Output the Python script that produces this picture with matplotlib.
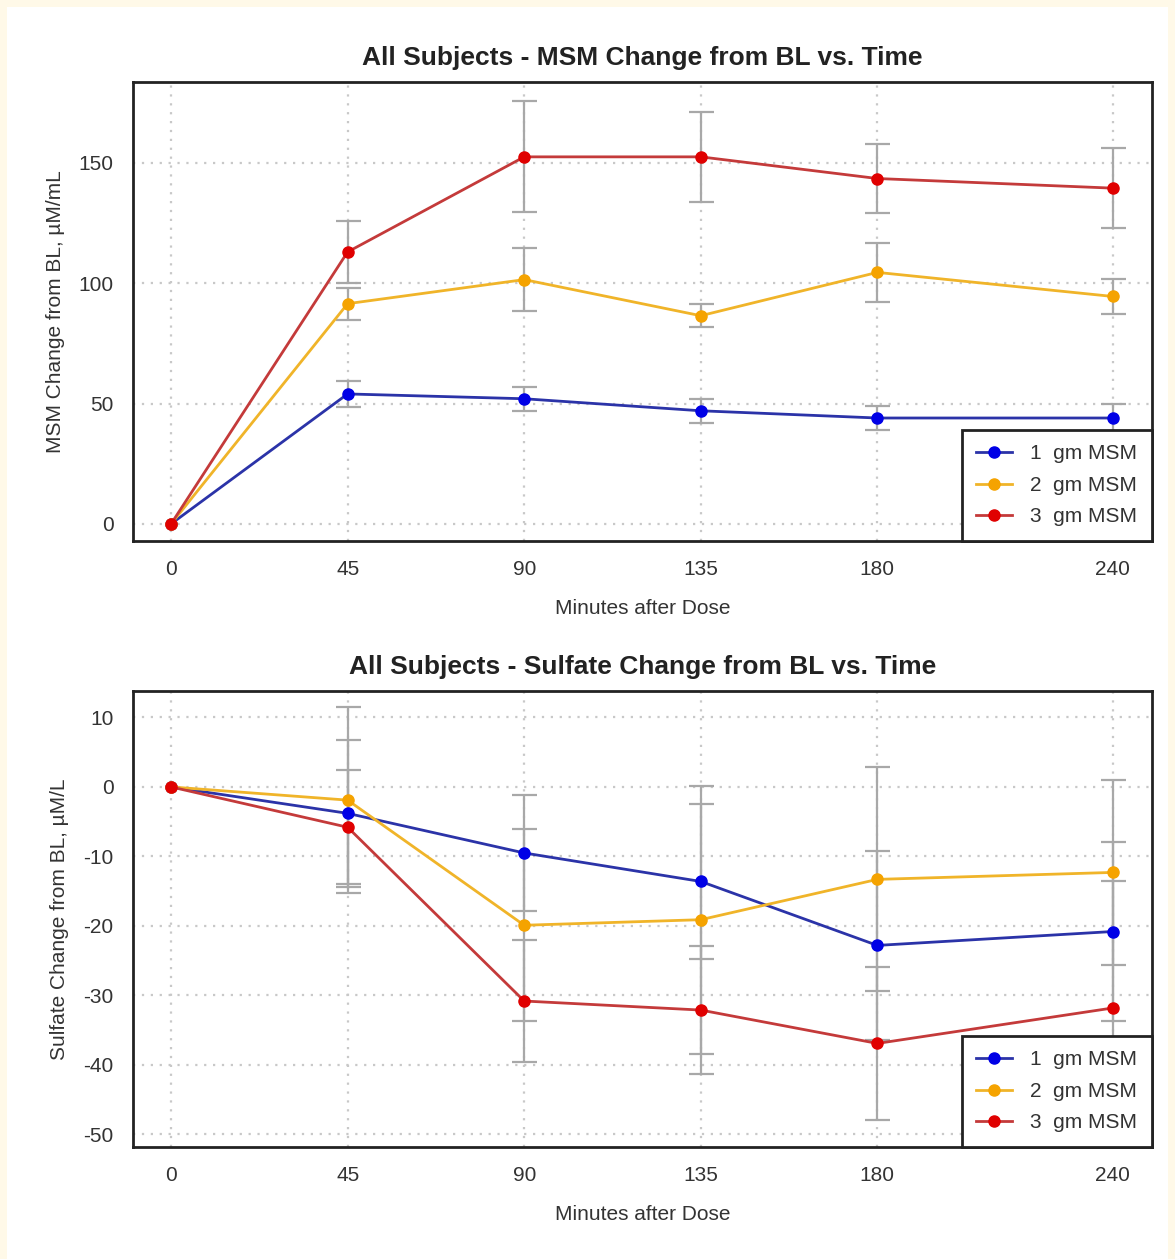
import matplotlib
matplotlib.use("Agg")
import matplotlib.pyplot as plt
from matplotlib.patches import Rectangle
import numpy as np

plt.rcParams['font.family'] = ['Liberation Sans Narrow', 'Liberation Sans', 'DejaVu Sans']
plt.rcParams['axes.unicode_minus'] = False

minutes = [0, 45, 90, 135, 180, 240]
doses = ["1  gm MSM", "2  gm MSM", "3  gm MSM"]

# MSM change from baseline (uM/mL) and error bar half-widths
msm_1g = [0, 54, 52, 47, 44, 44]
msm_2g = [0, 91.5, 101.5, 86.5, 104.5, 94.5]
msm_3g = [0, 113, 152.5, 152.5, 143.5, 139.5]
msm_1g_err = [0, 5.5, 5, 5, 5, 6]
msm_2g_err = [0, 6.6, 13.2, 4.8, 12.3, 7.4]
msm_3g_err = [0, 13, 23, 18.7, 14.3, 16.5]

# sulfate change from baseline (uM/L) and error bar half-widths
sul_1g = [0, -3.8, -9.5, -13.6, -22.8, -20.8]
sul_2g = [0, -1.9, -19.9, -19.1, -13.3, -12.3]
sul_3g = [0, -5.8, -30.8, -32.1, -36.9, -31.8]
sul_1g_err = [0, 10.6, 8.4, 11.1, 13.6, 12.9]
sul_2g_err = [0, 13.4, 13.8, 19.3, 16.1, 13.3]
sul_3g_err = [0, 8.2, 8.8, 9.2, 11.0, 18.2]

line_cols = ["#2b33a8", "#f0b429", "#c43a3a"]
mark_cols = ["#0000e6", "#f5a300", "#e00000"]
txt = "#333333"

fig = plt.figure(figsize=(11.75, 12.59), dpi=100)
fig.patch.set_facecolor("#fff9e8")
fig.patches.append(Rectangle((7/1175, 0), 1161/1175, 1 - 7/1259, transform=fig.transFigure,
                             facecolor="white", edgecolor="none", zorder=-5))


def panel(ax, series, errs, title, ylabel, yticks, ylim):
    for i in range(3):
        # baseline point has no spread, so no bar there
        ax.errorbar(minutes[1:], series[i][1:], yerr=errs[i][1:], fmt="none", ecolor="#a8a8a8",
                    elinewidth=1.6, capsize=9, capthick=1.6, zorder=2)
    for i in range(3):
        ax.plot(minutes, series[i], color=line_cols[i], lw=2, marker="o", ms=8,
                mfc=mark_cols[i], mec=mark_cols[i], label=doses[i], zorder=3 + i)
    ax.set_xlim(-9.7, 250)
    ax.set_ylim(*ylim)
    ax.set_xticks(minutes)
    ax.set_yticks(yticks)
    ax.grid(True, color="#c8c8c8", linestyle=(0, (1, 3)), lw=1.6)
    ax.set_axisbelow(True)
    ax.tick_params(length=0, labelsize=15, colors=txt, pad=14)
    for s in ax.spines.values():
        s.set_linewidth(2)
        s.set_color("#222222")
    ax.set_title(title, fontsize=19, fontweight="bold", color="#222222", pad=12)
    ax.set_xlabel("Minutes after Dose", fontsize=15, color=txt, labelpad=14)
    ax.set_ylabel(ylabel, fontsize=15, color=txt, labelpad=10)
    leg = ax.legend(loc="lower right", borderaxespad=0, fancybox=False, framealpha=1,
                    edgecolor="#222222", fontsize=15, handlelength=1.7, handletextpad=0.9,
                    labelspacing=0.6, borderpad=0.7, labelcolor=txt)
    leg.get_frame().set_linewidth(2)


ax1 = fig.add_axes([133/1175, 1 - 541/1259, 1019/1175, 459/1259])
panel(ax1, [msm_1g, msm_2g, msm_3g], [msm_1g_err, msm_2g_err, msm_3g_err],
      "All Subjects - MSM Change from BL vs. Time", "MSM Change from BL, \u00b5M/mL",
      [0, 50, 100, 150], (-7.1, 183.6))

ax2 = fig.add_axes([133/1175, 1 - 1147/1259, 1019/1175, 456/1259])
panel(ax2, [sul_1g, sul_2g, sul_3g], [sul_1g_err, sul_2g_err, sul_3g_err],
      "All Subjects - Sulfate Change from BL vs. Time", "Sulfate Change from BL, \u00b5M/L",
      [10, 0, -10, -20, -30, -40, -50], (-51.8, 13.8))

fig.savefig("out.png", dpi=100, facecolor=fig.get_facecolor())
